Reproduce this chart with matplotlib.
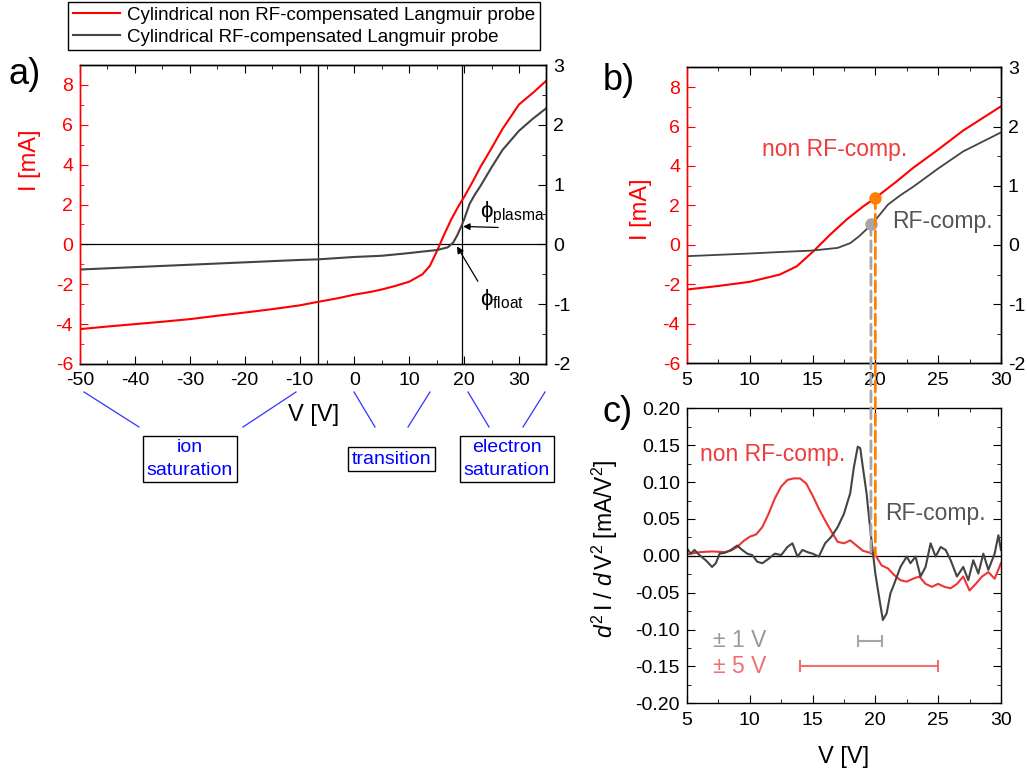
import matplotlib
matplotlib.use('Agg')
import matplotlib.pyplot as plt
from matplotlib.ticker import MultipleLocator, FormatStrFormatter
from matplotlib.patches import ConnectionPatch
from matplotlib.lines import Line2D

plt.rcParams['font.family'] = ['Liberation Sans', 'DejaVu Sans']
plt.rcParams['mathtext.fontset'] = 'custom'
plt.rcParams['mathtext.rm'] = 'Liberation Sans'
plt.rcParams['mathtext.it'] = 'Liberation Sans:italic'
plt.rcParams['mathtext.bf'] = 'Liberation Sans:bold'
plt.rcParams['axes.linewidth'] = 1.0
plt.rcParams['axes.unicode_minus'] = False

# I-V curves (V in volts)
v_red = [-50, -45, -40, -35, -30, -25, -20, -15, -10, -6.6, -3, 0, 3, 5, 7.5, 10,
         12.4, 13.75, 15.07, 16.4, 17.7, 19.05, 20, 21.7, 23, 25, 27, 30, 32.6, 35]
i_red = [-4.25, -4.12, -4.0, -3.88, -3.75, -3.58, -3.42, -3.25, -3.06, -2.88, -2.7,
         -2.52, -2.38, -2.26, -2.08, -1.87, -1.5, -1.08, -0.32, 0.52, 1.28, 1.96,
         2.38, 3.22, 3.9, 4.83, 5.8, 7.02, 7.62, 8.22]
v_gray = [-50, -40, -30, -20, -10, -6.6, 0, 5, 10, 12.4, 15, 17, 18, 18.7, 19.4, 20,
          21, 22, 23, 25, 27, 30, 32.5, 35]
i_gray = [-0.42, -0.38, -0.34, -0.30, -0.26, -0.25, -0.21, -0.19, -0.145, -0.12,
          -0.095, -0.05, 0.03, 0.145, 0.285, 0.42, 0.68, 0.84, 0.98, 1.29, 1.58, 1.9,
          2.1, 2.28]

# second derivatives
v_d2_red = [5, 6, 7, 8, 8.5, 9, 9.5, 10, 10.5, 11, 11.5, 12, 12.5, 13, 13.5, 14, 14.5,
            15, 15.5, 16, 16.5, 17, 17.5, 18, 18.5, 19, 19.5, 20, 20.5, 21, 21.5, 22,
            22.5, 23, 23.5, 24, 24.5, 25, 25.5, 26, 26.5, 27, 27.5, 28, 28.5, 29, 29.5, 30]
d2_red = [0.002, 0.005, 0.006, 0.005, 0.007, 0.012, 0.020, 0.026, 0.029, 0.039, 0.057,
          0.078, 0.094, 0.103, 0.105, 0.105, 0.098, 0.082, 0.064, 0.048, 0.033, 0.019,
          0.017, 0.021, 0.014, 0.007, 0.0045, 0.001, -0.013, -0.017, -0.026, -0.033,
          -0.035, -0.031, -0.028, -0.038, -0.042, -0.038, -0.042, -0.044, -0.038,
          -0.028, -0.047, -0.038, -0.028, -0.022, -0.031, -0.010]
v_d2_gray = [5, 5.3, 5.6, 6, 6.5, 7, 7.3, 7.6, 8, 8.5, 9, 9.4, 9.8, 10.2, 10.6, 11, 11.5,
             12, 12.5, 13, 13.4, 13.8, 14.2, 14.6, 15, 15.5, 16, 16.5, 17, 17.5, 18,
             18.3, 18.6, 18.8, 19, 19.3, 19.6, 20, 20.3, 20.6, 20.9, 21.2, 21.5, 22,
             22.5, 22.8, 23.2, 23.6, 24, 24.4, 24.8, 25.2, 25.6, 26, 26.5, 27, 27.4,
             27.8, 28.2, 28.6, 29, 29.5, 29.8, 30]
d2_gray = [0.010, 0.003, 0.008, 0.001, -0.006, -0.015, -0.010, 0.003, 0.004, 0.008,
           0.014, 0.008, 0.003, 0.001, -0.008, -0.010, -0.004, 0.003, 0.001, 0.012,
           0.017, -0.001, 0.008, 0.005, 0.003, -0.001, 0.017, 0.026, 0.039, 0.057,
           0.085, 0.121, 0.148, 0.146, 0.121, 0.085, 0.035, -0.024, -0.056, -0.087,
           -0.078, -0.051, -0.038, -0.015, -0.001, -0.010, -0.001, -0.028, -0.015,
           0.017, -0.001, 0.012, 0.008, -0.006, -0.028, -0.015, -0.033, -0.006,
           -0.024, 0.003, -0.019, 0.003, 0.028, 0.008]

v_float = -6.6
v_plasma = 19.66

RED = '#ff0000'
GRAY = '#444444'
RED_C = '#ee3434'
ORANGE = '#ff8000'
LGRAY = '#a6a6a6'
W, H = 1027, 774
TICK = 14


def px(x, y):
    return x / W, 1 - y / H


def style_pair(ax, ax2):
    ax.spines['left'].set_color(RED)
    ax2.spines['left'].set_color(RED)
    ax.tick_params(axis='y', which='both', colors=RED, direction='in', right=False,
                   labelsize=TICK, pad=5)
    ax.tick_params(axis='x', which='both', direction='in', top=True, labelsize=TICK,
                   pad=6)
    ax2.tick_params(axis='y', which='both', direction='in', labelsize=TICK, pad=5)
    for a in (ax, ax2):
        a.tick_params(which='major', length=6)
        a.tick_params(which='minor', length=3)
    ax.set_ylim(-6, 9)
    ax2.set_ylim(-2, 3)
    ax.yaxis.set_major_locator(MultipleLocator(2))
    ax.yaxis.set_minor_locator(MultipleLocator(1))
    ax2.yaxis.set_major_locator(MultipleLocator(1))
    ax2.yaxis.set_minor_locator(MultipleLocator(0.5))
    ax.set_ylabel('I [mA]', color=RED, fontsize=17)


fig = plt.figure(figsize=(W / 100, H / 100), dpi=100)

# ---------- a) ----------
axa = fig.add_axes([0.0779, 1 - 364 / H, 0.4542, 299 / H])
axa2 = axa.twinx()
style_pair(axa, axa2)
axa.set_xlim(-50, 35)
axa.xaxis.set_major_locator(MultipleLocator(10))
axa.xaxis.set_minor_locator(MultipleLocator(5))
axa.axhline(0, color='black', lw=0.9)
axa.axvline(v_float, color='black', lw=0.9)
axa.axvline(v_plasma, color='black', lw=0.9)
axa.plot(v_red, i_red, color=RED, lw=1.5)
axa2.plot(v_gray, i_gray, color=GRAY, lw=1.5)
axa.set_xlabel('V [V]', fontsize=17)
axa.xaxis.set_label_coords(0.5, -0.135)
axa.yaxis.set_label_coords(-0.083, 0.68)
axa.annotate('', xy=(19.8, 0.9), xytext=(26.2, 0.85),
             arrowprops=dict(arrowstyle='-|>', color='black', lw=0.9,
                             mutation_scale=10, shrinkA=0, shrinkB=0))
axa.annotate('', xy=(18.7, -0.1), xytext=(22.5, -1.85),
             arrowprops=dict(arrowstyle='-|>', color='black', lw=0.9,
                             mutation_scale=10, shrinkA=0, shrinkB=0))
axa.text(22.9, 1.6, r'$\mathrm{\phi_{plasma}}$', fontsize=16, va='center', ha='left')
axa.text(22.9, -2.75, r'$\mathrm{\phi_{float}}$', fontsize=16, va='center', ha='left')

# ---------- b) ----------
axb = fig.add_axes([0.6689, 0.5306, 0.3057, 0.3824])
axb2 = axb.twinx()
style_pair(axb, axb2)
axb.set_xlim(5, 30)
axb.xaxis.set_major_locator(MultipleLocator(5))
axb.xaxis.set_minor_locator(MultipleLocator(2.5))
axb.plot(v_red, i_red, color=RED, lw=1.5)
axb2.plot(v_gray, i_gray, color=GRAY, lw=1.3)
axb.yaxis.set_label_coords(-0.111, 0.52)
axb.text(10.96, 4.83, 'non RF-comp.', color='#ee3b3b', fontsize=16.5, va='center')
axb.text(21.3, 1.2, 'RF-comp.', color='#555555', fontsize=16.5, va='center')

# ---------- c) ----------
axc = fig.add_axes([0.6689, 0.0913, 0.3057, 0.3811])
axc.set_xlim(5, 30)
axc.set_ylim(-0.2, 0.2)
axc.xaxis.set_major_locator(MultipleLocator(5))
axc.xaxis.set_minor_locator(MultipleLocator(2.5))
axc.yaxis.set_major_locator(MultipleLocator(0.05))
axc.yaxis.set_minor_locator(MultipleLocator(0.025))
axc.yaxis.set_major_formatter(FormatStrFormatter('%.2f'))
axc.tick_params(which='both', direction='in', top=True, right=True, labelsize=TICK)
axc.tick_params(axis='x', pad=6)
axc.tick_params(axis='y', pad=5)
axc.tick_params(which='major', length=6)
axc.tick_params(which='minor', length=3)
axc.axhline(0, color='black', lw=0.9)
axc.plot(v_d2_red, d2_red, color=RED_C, lw=1.5)
axc.plot(v_d2_gray, d2_gray, color=GRAY, lw=1.5)
axc.errorbar(19.58, -0.115, xerr=0.93, color=LGRAY, capsize=4, lw=1.5, capthick=1.5)
axc.errorbar(19.52, -0.15, xerr=5.5, color='#f07070', capsize=4, lw=1.5, capthick=1.5)
axc.text(7.1, -0.115, '± 1 V', color='#999999', fontsize=16.5, va='center')
axc.text(7.1, -0.15, '± 5 V', color='#f07070', fontsize=16.5, va='center')
axc.text(6.06, 0.138, 'non RF-comp.', color='#ee3b3b', fontsize=16.5, va='center')
axc.text(20.77, 0.058, 'RF-comp.', color='#555555', fontsize=16.5, va='center')
axc.set_xlabel('V [V]', fontsize=17)
axc.xaxis.set_label_coords(0.5, -0.146)
axc.set_ylabel(r'$d^2\,$I / $d\,$V$^2$ [mA/V$^2$]', fontsize=16.5)
axc.yaxis.set_label_coords(-0.213, 0.525)

# markers and dashed guides from b) down to c)
for xa, ya, axa_, yc, col in [(19.65, 0.35, axb2, 0.005, LGRAY),
                              (20.0, 2.4, axb, 0.0, ORANGE)]:
    con = ConnectionPatch(xyA=(xa, ya), coordsA=axa_.transData,
                          xyB=(xa, yc), coordsB=axc.transData,
                          color=col, lw=2, linestyle=(0, (4, 2)))
    fig.add_artist(con)
    axa_.plot([xa], [ya], 'o', color=col, ms=8, zorder=5)

# panel letters
fig.text(*px(9, 75), 'a)', fontsize=26, va='center')
fig.text(*px(603, 80), 'b)', fontsize=26, va='center')
fig.text(*px(603, 412), 'c)', fontsize=26, va='center')

# region boxes below a)
segs = [((84, 392), (139, 427)), ((296, 392), (243, 427)),
        ((354, 392), (375, 427)), ((430, 392), (408, 427)),
        ((468, 392), (489, 427)), ((545, 392), (523, 427))]
for p0, p1 in segs:
    x0, y0 = px(*p0)
    x1, y1 = px(*p1)
    fig.add_artist(Line2D([x0, x1], [y0, y1], color='#3333ff', lw=0.9,
                          transform=fig.transFigure))
box = dict(boxstyle='square,pad=0.2', fc='white', ec='black', lw=1)
for (x, y), s in [((190, 459), 'ion\nsaturation'), ((391.5, 459), 'transition'),
                  ((507, 459), 'electron\nsaturation')]:
    fig.text(*px(x, y), s, color='#0000ff', fontsize=14, ha='center', va='center',
             bbox=box, linespacing=1.4)

# legend
handles = [Line2D([], [], color=RED, lw=1.5), Line2D([], [], color=GRAY, lw=1.5)]
labels = ['Cylindrical non RF-compensated Langmuir probe',
          'Cylindrical RF-compensated Langmuir probe']
fig.legend(handles, labels, loc='upper left', bbox_to_anchor=px(68, 2),
           fontsize=13.5, frameon=True, fancybox=False, edgecolor='black',
           framealpha=1, handlelength=2.5, borderpad=0.25, labelspacing=0.25,
           handletextpad=0.4, borderaxespad=0)

fig.savefig('out.png', dpi=100)
